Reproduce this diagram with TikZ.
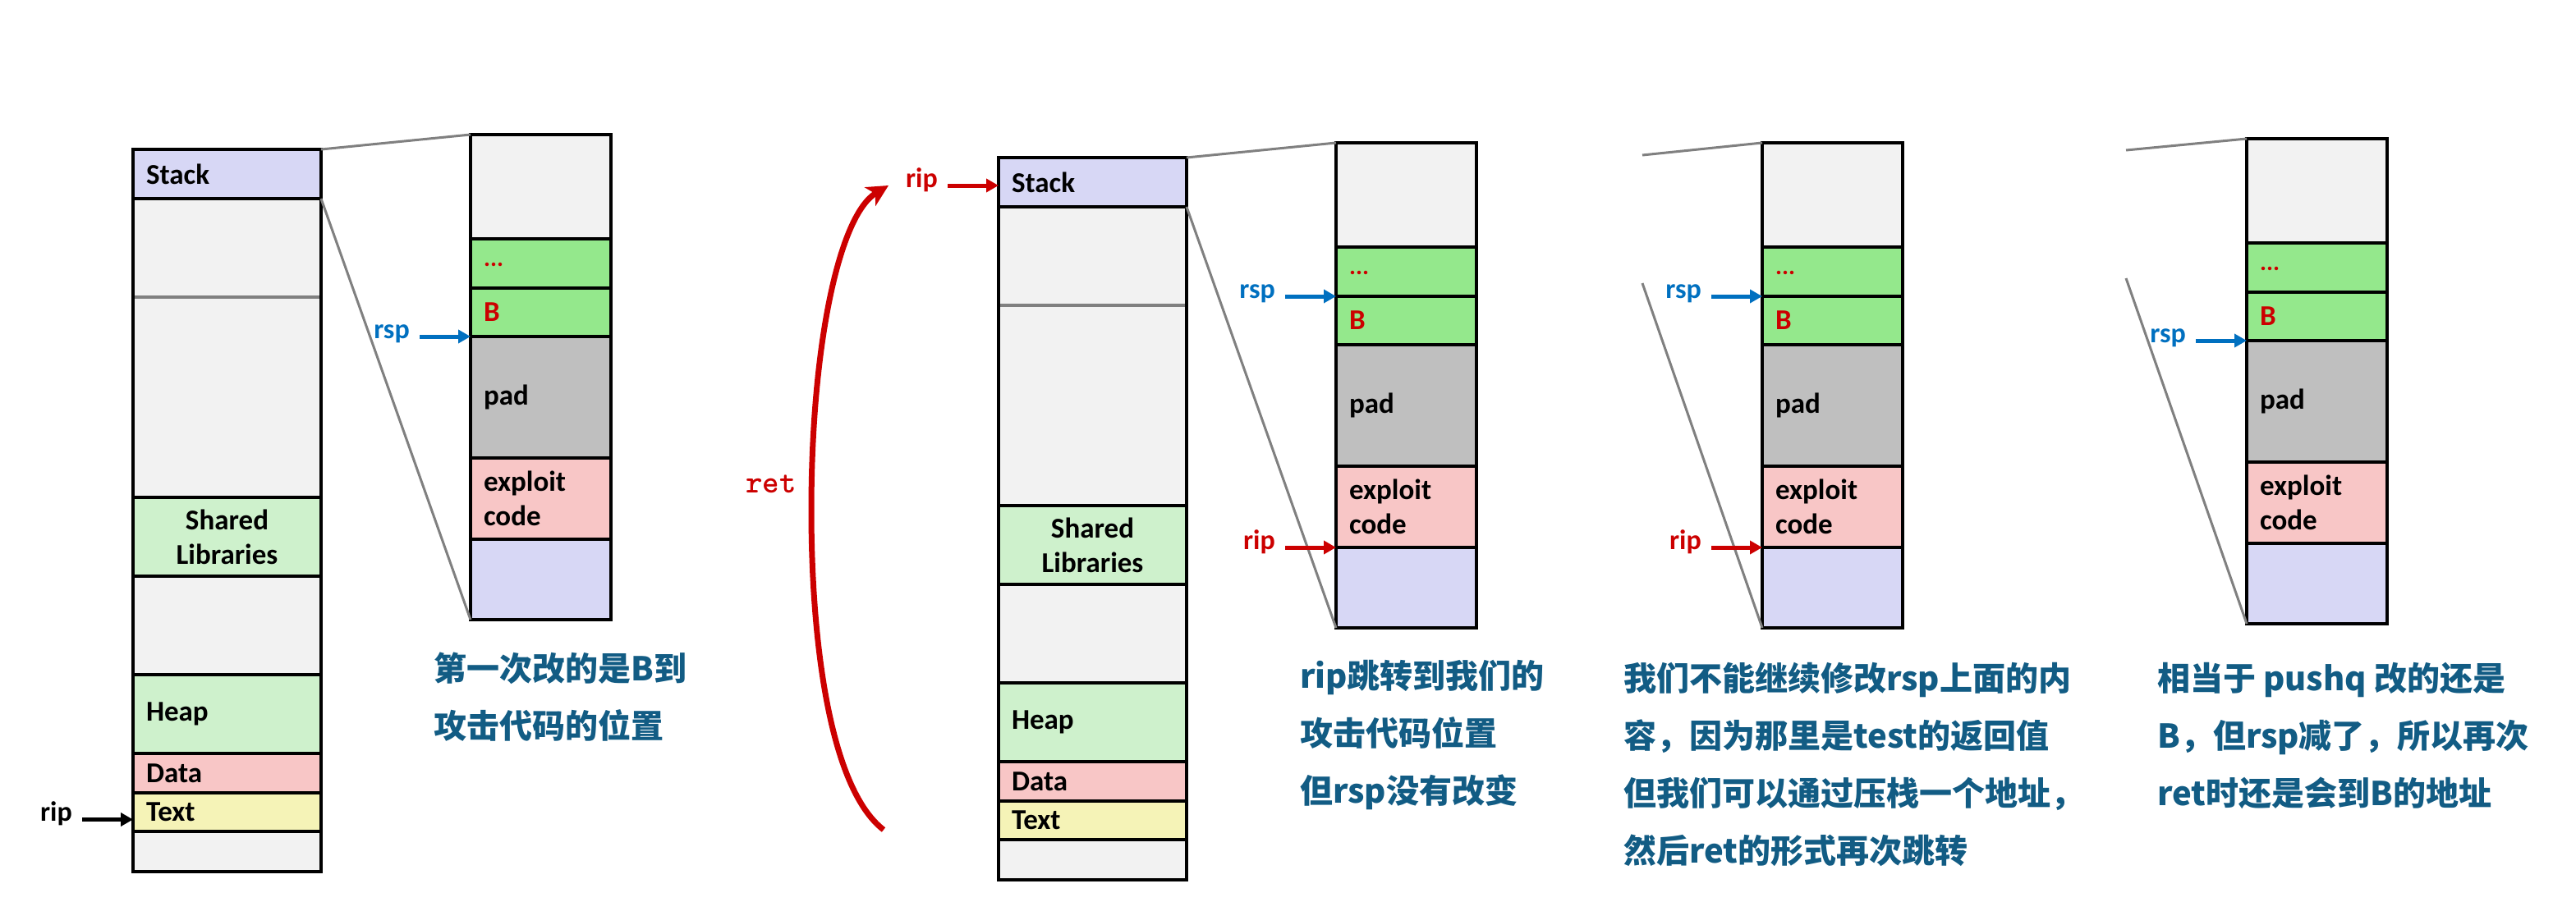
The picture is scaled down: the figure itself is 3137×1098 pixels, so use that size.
\documentclass[tikz,border=0pt]{standalone}
\usepackage{fontspec}
\setmainfont{Carlito}
\newfontfamily\cjk{Noto Sans CJK SC}
\usetikzlibrary{arrows.meta,calc}

\definecolor{lav}{RGB}{215,215,245}
\definecolor{lgray}{RGB}{242,242,242}
\definecolor{lgreen}{RGB}{206,241,204}
\definecolor{pinkc}{RGB}{248,198,198}
\definecolor{yel}{RGB}{245,243,183}
\definecolor{bgreen}{RGB}{148,232,140}
\definecolor{padgray}{RGB}{191,191,191}
\definecolor{myred}{RGB}{204,0,0}
\definecolor{myblue}{RGB}{0,112,192}
\definecolor{noteblue}{RGB}{18,92,132}
\definecolor{conn}{RGB}{128,128,128}

\tikzset{
  cell/.style={draw=black, line width=4pt, anchor=north west, inner ysep=0pt,
    inner xsep=16pt, outer sep=0pt, font=\fontsize{35}{42}\selectfont\bfseries},
  memcell/.style={cell, text width=197pt, align=left},
  memcellc/.style={cell, text width=197pt, align=center},
  zcell/.style={cell, text width=139pt, align=left},
  connline/.style={draw=conn, line width=3pt},
  divline/.style={draw=conn, line width=4pt},
  lab/.style={font=\fontsize{34}{40}\selectfont\bfseries, inner sep=0pt, anchor=mid east},
  arrK/.style={draw=black, line width=5pt, -{Triangle[length=15pt,width=16pt]}},
  arrB/.style={draw=myblue, line width=5pt, -{Triangle[length=15pt,width=16pt]}},
  arrR/.style={draw=myred, line width=5pt, -{Triangle[length=15pt,width=16pt]}},
  retarc/.style={draw=myred, line width=7pt, -{Stealth[length=26pt,width=26pt,inset=7pt]}},
  note/.style={font=\cjk\bfseries\fontsize{40}{70}\selectfont, text=noteblue,
    align=left, anchor=north west, inner sep=0pt},
}

\newcommand\memcol[3]{%
  \node[memcell, fill=lav, minimum height=60pt] (#1s) at (#2,#3) {Stack};
  \node[memcell, fill=lgray, minimum height=364pt] (#1e) at (#1s.south west) {};
  \node[memcellc, fill=lgreen, minimum height=96pt] (#1sl) at (#1e.south west) {Shared\\Libraries};
  \node[memcell, fill=lgray, minimum height=120pt] (#1f) at (#1sl.south west) {};
  \node[memcell, fill=lgreen, minimum height=96pt] (#1hp) at (#1f.south west) {Heap};
  \node[memcell, fill=pinkc, minimum height=48pt] (#1dt) at (#1hp.south west) {Data};
  \node[memcell, fill=yel, minimum height=47pt] (#1tx) at (#1dt.south west) {Text};
  \node[memcell, fill=lgray, minimum height=49pt] (#1bt) at (#1tx.south west) {};
  \draw[divline] ([shift={(2pt,-120pt)}]#1e.north west) -- ([shift={(-2pt,-120pt)}]#1e.north east);
}

\newcommand\zoomcol[3]{%
  \node[zcell, fill=lgray, minimum height=127pt] (#1a) at (#2,#3) {};
  \node[zcell, fill=bgreen, minimum height=60pt] (#1d) at (#1a.south west)
    {\raisebox{-7pt}{\textcolor{myred}{\fontsize{30}{30}\selectfont ...}}};
  \node[zcell, fill=bgreen, minimum height=59pt, text=myred] (#1b) at (#1d.south west) {B};
  \node[zcell, fill=padgray, minimum height=148pt] (#1p) at (#1b.south west) {pad};
  \node[zcell, fill=pinkc, minimum height=99pt] (#1x) at (#1p.south west) {exploit\\code};
  \node[zcell, fill=lav, minimum height=98pt] (#1l) at (#1x.south west) {};
}

\begin{document}
\begin{tikzpicture}[x=1pt,y=-1pt]
\fill[white] (0,0) rectangle (3137,1098);
\useasboundingbox (0,0) rectangle (3137,1098);

% ---------- panel 1 ----------
\memcol{m1}{162}{182}
\zoomcol{z1}{573}{164}
\draw[connline] (m1s.north east) -- (z1a.north west);
\draw[connline] (m1s.south east) -- (z1l.south west);
\node[lab, text=myblue] (rsp1) at ([xshift=-74pt]z1b.south west) {rsp};
\draw[arrB] ([xshift=12pt]rsp1.mid east) -- (z1b.south west);
\node[lab] (rip1) at ([shift={(-74pt,-9pt)}]m1tx.west) {rip};
\draw[arrK] ([xshift=12pt]rip1.mid east) -- (rip1.mid east -| m1tx.west);
\node[note] (n1) at (528,795) {第一次改的是B到\\攻击代码的位置};

% ---------- ret arc ----------
\coordinate (retS) at (1076,1011);
\coordinate (retM) at (988,622);
\coordinate (retE) at (1082,226);
\draw[retarc] (retS) .. controls (1010,960) and (988,780) .. (retM)
  .. controls (988,420) and (1022,262) .. (retE);
\node[font=\ttfamily\bfseries\fontsize{39}{39}\selectfont, text=myred, inner sep=0pt] (ret) at (939,590) {ret};

% ---------- panel 2 ----------
\memcol{m2}{1216}{192}
\zoomcol{z2}{1627}{174}
\draw[connline] (m2s.north east) -- (z2a.north west);
\draw[connline] (m2s.south east) -- (z2l.south west);
\node[lab, text=myred] (rip2a) at ([shift={(-74pt,-4pt)}]m2s.west) {rip};
\draw[arrR] ([xshift=12pt]rip2a.mid east) -- (rip2a.mid east -| m2s.west);
\node[lab, text=myblue] (rsp2) at ([xshift=-74pt]z2d.south west) {rsp};
\draw[arrB] ([xshift=12pt]rsp2.mid east) -- (z2d.south west);
\node[lab, text=myred] (rip2b) at ([xshift=-74pt]z2x.south west) {rip};
\draw[arrR] ([xshift=12pt]rip2b.mid east) -- (z2x.south west);
\node[note] (n2) at (1583,804) {rip跳转到我们的\\攻击代码位置\\但rsp没有改变};

% ---------- panel 3 ----------
\zoomcol{z3}{2146}{174}
\coordinate (c3t) at (2000,189);
\coordinate (c3b) at (2000,345);
\draw[connline] (c3t) -- (z3a.north west);
\draw[connline] (c3b) -- (z3l.south west);
\node[lab, text=myblue] (rsp3) at ([xshift=-74pt]z3d.south west) {rsp};
\draw[arrB] ([xshift=12pt]rsp3.mid east) -- (z3d.south west);
\node[lab, text=myred] (rip3) at ([xshift=-74pt]z3x.south west) {rip};
\draw[arrR] ([xshift=12pt]rip3.mid east) -- (z3x.south west);
\node[note] (n3) at (1977,807) {我们不能继续修改rsp上面的内\\容，因为那里是test的返回值\\但我们可以通过压栈一个地址，\\然后ret的形式再次跳转};

% ---------- panel 4 ----------
\zoomcol{z4}{2736}{169}
\coordinate (c4t) at (2589,183);
\coordinate (c4b) at (2589,339);
\draw[connline] (c4t) -- (z4a.north west);
\draw[connline] (c4b) -- (z4l.south west);
\node[lab, text=myblue] (rsp4) at ([xshift=-74pt]z4b.south west) {rsp};
\draw[arrB] ([xshift=12pt]rsp4.mid east) -- (z4b.south west);
\node[note] (n4) at (2627,807) {相当于 pushq 改的还是\\B，但rsp减了，所以再次\\ret时还是会到B的地址};
\end{tikzpicture}
\end{document}
